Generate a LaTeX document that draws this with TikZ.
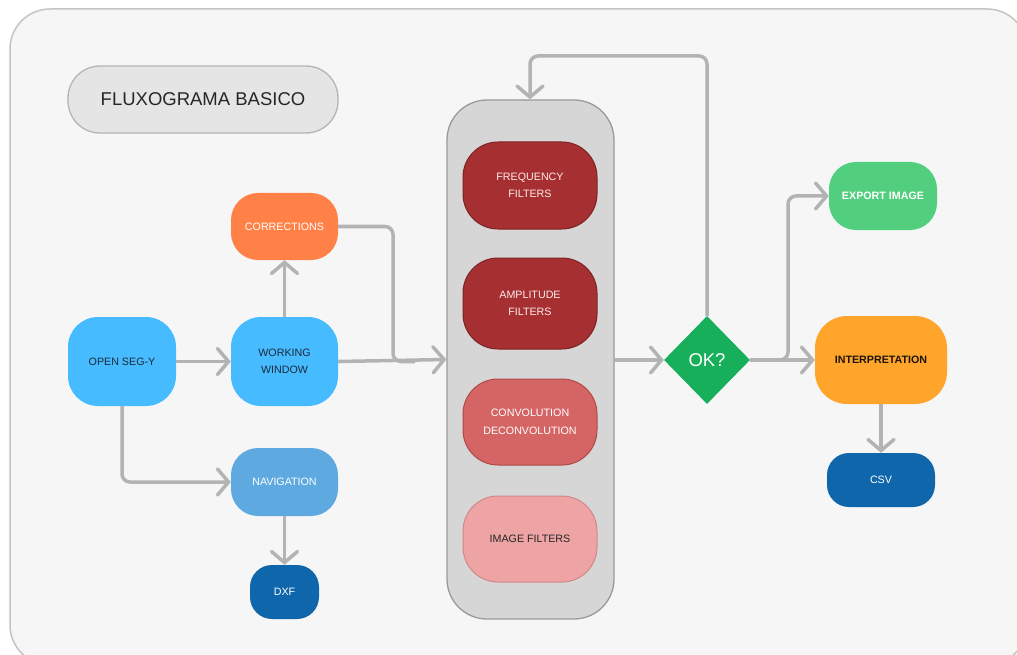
\documentclass[tikz,border=0pt]{standalone}
\usepackage{fontspec}
\setmainfont{Liberation Sans}
\usetikzlibrary{arrows.meta,shapes.geometric}
\definecolor{framefill}{HTML}{F6F6F6}
\definecolor{framedraw}{HTML}{C4C4C4}
\definecolor{titlefill}{HTML}{E5E5E5}
\definecolor{titledraw}{HTML}{B5B5B5}
\definecolor{conn}{HTML}{B3B3B3}
\definecolor{skyblue}{HTML}{47BBFF}
\definecolor{navblue}{HTML}{5DA9E0}
\definecolor{deepblue}{HTML}{0F66AA}
\definecolor{orangec}{HTML}{FF8147}
\definecolor{contfill}{HTML}{D6D6D6}
\definecolor{contdraw}{HTML}{9A9A9A}
\definecolor{redA}{HTML}{A52F31}
\definecolor{redAd}{HTML}{7E2426}
\definecolor{redB}{HTML}{D56464}
\definecolor{redBd}{HTML}{B04A4A}
\definecolor{redC}{HTML}{EEA3A4}
\definecolor{redCd}{HTML}{D08889}
\definecolor{okgreen}{HTML}{17AF5A}
\definecolor{expgreen}{HTML}{52CF7E}
\definecolor{interp}{HTML}{FFA52B}
\definecolor{darktext}{HTML}{1B2B3C}
\tikzset{
  box/.style={rectangle, align=center, inner sep=0pt, font=\fontsize{10.7}{17.5}\selectfont, text=white},
  conn/.style={draw=conn, line width=3.5pt, rounded corners=8pt, -{Straight Barb[length=11pt,width=26pt,line cap=round]}},
  plain/.style={draw=conn, line width=3.5pt, rounded corners=8pt},
}
\begin{document}
\begin{tikzpicture}[x=1pt,y=-1pt]
\useasboundingbox (0,0) rectangle (1017,655);
\clip (0,0) rectangle (1017,655);
\fill[white] (0,0) rectangle (1017,655);
\draw[fill=framefill, draw=framedraw, line width=1.5pt, rounded corners=40pt] (10,9) rectangle (1027,665);

% title
\node[box, draw=titledraw, fill=titlefill, line width=1.3pt, rounded corners=32pt,
  minimum width=270pt, minimum height=67pt, text=black!85, font=\fontsize{18.5}{20}\selectfont] (title) at (203,99.5) {FLUXOGRAMA BASICO};

% left part
\node[box, fill=skyblue, rounded corners=30pt, minimum width=108pt, minimum height=89pt, text=darktext] (open) at (122,361.5) {OPEN SEG-Y};
\node[box, fill=skyblue, rounded corners=30pt, minimum width=107pt, minimum height=89pt, text=darktext] (work) at (284.5,361.5) {WORKING\\WINDOW};
\node[box, fill=orangec, rounded corners=27pt, minimum width=107pt, minimum height=67pt] (corr) at (284.5,226.5) {CORRECTIONS};
\node[box, fill=navblue, rounded corners=27pt, minimum width=107pt, minimum height=68pt] (nav) at (284.5,482) {NAVIGATION};
\node[box, fill=deepblue, rounded corners=22pt, minimum width=69pt, minimum height=54pt] (dxf) at (284.5,592) {DXF};

% container
\node[box, draw=contdraw, fill=contfill, line width=1.3pt, rounded corners=40pt, minimum width=167pt, minimum height=519pt] (cont) at (530.5,359.5) {};
\node[box, fill=redA, draw=redAd, line width=1pt, rounded corners=35pt, minimum width=134pt, minimum height=87pt, text=white!92!red] (freq) at (530,185.5) {FREQUENCY\\FILTERS};
\node[box, fill=redA, draw=redAd, line width=1pt, rounded corners=35pt, minimum width=134pt, minimum height=91pt, text=white!92!red] (ampl) at (530,303.5) {AMPLITUDE\\FILTERS};
\node[box, fill=redB, draw=redBd, line width=1pt, rounded corners=35pt, minimum width=134pt, minimum height=86pt] (conv) at (530,422) {CONVOLUTION\\DECONVOLUTION};
\node[box, fill=redC, draw=redCd, line width=1pt, rounded corners=35pt, minimum width=134pt, minimum height=86pt, text=black!85] (imgf) at (530,539) {IMAGE FILTERS};

% decision
\node[diamond, fill=okgreen, inner sep=0pt, minimum width=86pt, minimum height=88pt, text=white, font=\fontsize{18.5}{20}\selectfont] (ok) at (707,360) {OK?};

% right part
\node[box, fill=expgreen, rounded corners=27pt, minimum width=108pt, minimum height=68pt, font=\fontsize{10.7}{14}\selectfont\bfseries] (exp) at (883,196) {EXPORT IMAGE};
\node[box, fill=interp, rounded corners=32pt, minimum width=132pt, minimum height=88pt, text=black!85!brown, font=\fontsize{10.7}{14}\selectfont\bfseries] (int) at (881,360) {INTERPRETATION};
\node[box, fill=deepblue, rounded corners=22pt, minimum width=108pt, minimum height=54pt] (csv) at (881,480) {CSV};

% connectors
\draw[conn] (open.east) -- (work.west);
\draw[conn] (work.north) -- (corr.south);
\draw[conn] (open.south) |- (nav.west);
\draw[conn] (nav.south) -- (dxf.north);
\draw[conn] (work.east) -- (cont.west);
\coordinate (cjoin) at (393,361.5);
\coordinate (cjoinend) at (415,361.5);
\draw[plain] (corr.east) -| (cjoin) -- (cjoinend);
\draw[conn] (cont.east |- ok.west) -- (ok.west);
\coordinate (loopR) at (707,56);
\coordinate (loopL) at (530,56);
\draw[conn] (ok.north) -- (loopR) -- (loopL) -- (cont.north -| loopL);
\draw[conn] (ok.east) -- (int.west);
\coordinate (split) at (788,360);
\draw[conn] (ok.east) -| (split |- exp.west) -- (exp.west);
\draw[conn] (int.south) -- (csv.north);
\end{tikzpicture}
\end{document}
